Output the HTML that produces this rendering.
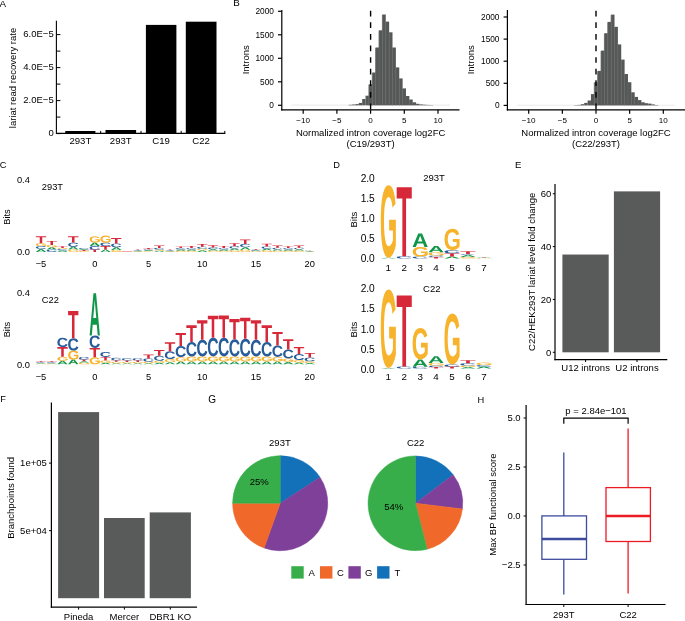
<!DOCTYPE html>
<html><head><meta charset="utf-8"><style>
html,body{margin:0;padding:0;background:#fff;}
body{width:685px;height:621px;overflow:hidden;}
svg{display:block;font-family:"Liberation Sans", sans-serif;will-change:transform;}
</style></head><body>
<svg width="685" height="621" viewBox="0 0 685 621"><defs><path id="gA" d="M787.5 1000 696.5 744.5H305.7L214.7 1000H0L374.1 0H627.4L1000 1000ZM500.7 154 496.4 169.6Q489.1 195.2 478.9 227.8Q468.7 260.5 353.7 586.9H648.5L547.3 299.5L516 203Z"/><path id="gC" d="M531 840Q730.4 840 808.1 655.2L1000 722.1Q938 862.8 818.1 931.4Q698.3 1000 531 1000Q277.1 1000 138.5 867.2Q0 734.5 0 495.9Q0 256.6 133.7 128.3Q267.4 0 521.3 0Q706.5 0 823 68.6Q939.5 137.2 986.6 270.3L792.4 319.3Q767.7 246.2 695.7 203.1Q623.6 160 525.8 160Q376.4 160 299.1 245.5Q221.8 331 221.8 495.9Q221.8 663.4 301.3 751.7Q380.9 840 531 840Z"/><path id="gG" d="M522.4 840.7Q605.6 840.7 683.8 817.6Q761.9 794.5 804.6 758.6V624.1H555.7V473.8H1000V831Q919 910.3 789.1 955.2Q659.2 1000 516.6 1000Q267.7 1000 133.9 868.6Q0 737.2 0 495.9Q0 255.9 134.6 127.9Q269.2 0 521.7 0Q880.6 0 978.3 253.1L781.5 309.7Q749.6 235.9 681.6 197.9Q613.6 160 521.7 160Q371.2 160 293.1 246.9Q214.9 333.8 214.9 495.9Q214.9 660.7 295.6 750.7Q376.3 840.7 522.4 840.7Z"/><path id="gT" d="M621.9 161.8V1000H377.3V161.8H0V0H1000V161.8Z"/></defs>
<rect width="685" height="621" fill="#fff"/>
<text x="-0.40" y="6.80" font-size="9.80" text-anchor="start" fill="#000">A</text>
<line x1="56.40" y1="20.70" x2="56.40" y2="133.90" stroke="#000" stroke-width="1.10"/>
<line x1="56.40" y1="133.40" x2="225.30" y2="133.40" stroke="#000" stroke-width="1.10"/>
<line x1="56.40" y1="133.60" x2="60.40" y2="133.60" stroke="#000" stroke-width="1.00"/>
<line x1="56.40" y1="100.60" x2="60.40" y2="100.60" stroke="#000" stroke-width="1.00"/>
<line x1="56.40" y1="67.60" x2="60.40" y2="67.60" stroke="#000" stroke-width="1.00"/>
<line x1="56.40" y1="34.60" x2="60.40" y2="34.60" stroke="#000" stroke-width="1.00"/>
<line x1="56.40" y1="117.10" x2="60.40" y2="117.10" stroke="#000" stroke-width="1.00"/>
<line x1="56.40" y1="84.10" x2="60.40" y2="84.10" stroke="#000" stroke-width="1.00"/>
<line x1="56.40" y1="51.10" x2="60.40" y2="51.10" stroke="#000" stroke-width="1.00"/>
<line x1="100.70" y1="133.40" x2="100.70" y2="130.90" stroke="#000" stroke-width="1.00"/>
<line x1="141.00" y1="133.40" x2="141.00" y2="130.90" stroke="#000" stroke-width="1.00"/>
<line x1="181.20" y1="133.40" x2="181.20" y2="130.90" stroke="#000" stroke-width="1.00"/>
<line x1="224.80" y1="133.40" x2="224.80" y2="130.90" stroke="#000" stroke-width="1.00"/>
<text x="53.70" y="136.27" font-size="9.50" text-anchor="end" fill="#000">0</text>
<text x="53.70" y="103.27" font-size="9.50" text-anchor="end" fill="#000">2.0E−5</text>
<text x="53.70" y="70.27" font-size="9.50" text-anchor="end" fill="#000">4.0E−5</text>
<text x="53.70" y="37.27" font-size="9.50" text-anchor="end" fill="#000">6.0E−5</text>
<rect x="65.30" y="131.00" width="30.10" height="2.40" fill="#000"/>
<rect x="105.50" y="130.00" width="30.60" height="3.40" fill="#000"/>
<rect x="145.90" y="24.90" width="30.50" height="108.50" fill="#000"/>
<rect x="185.80" y="21.70" width="30.70" height="111.70" fill="#000"/>
<text x="80.40" y="143.80" font-size="9.60" text-anchor="middle" fill="#000">293T</text>
<text x="120.80" y="143.80" font-size="9.60" text-anchor="middle" fill="#000">293T</text>
<text x="161.10" y="143.80" font-size="9.60" text-anchor="middle" fill="#000">C19</text>
<text x="201.10" y="143.80" font-size="9.60" text-anchor="middle" fill="#000">C22</text>
<text x="16.00" y="78.00" font-size="9.50" text-anchor="middle" fill="#000" transform="rotate(-90 16.00 78.00)">lariat read recovery rate</text>
<text x="233.30" y="6.30" font-size="9.80" text-anchor="start" fill="#000">B</text>
<line x1="281.80" y1="9.90" x2="281.80" y2="110.40" stroke="#000" stroke-width="1.20"/>
<line x1="281.20" y1="109.80" x2="459.50" y2="109.80" stroke="#000" stroke-width="1.20"/>
<line x1="291.50" y1="105.10" x2="450.00" y2="105.10" stroke="#d0d0d0" stroke-width="0.45"/>
<rect x="348.70" y="104.80" width="3.37" height="0.50" fill="#565857"/>
<rect x="352.06" y="104.50" width="3.37" height="0.80" fill="#565857"/>
<rect x="355.44" y="104.10" width="3.37" height="1.20" fill="#565857"/>
<rect x="358.81" y="102.90" width="3.37" height="2.40" fill="#565857"/>
<rect x="362.18" y="99.00" width="3.37" height="6.30" fill="#565857"/>
<rect x="365.55" y="95.70" width="3.37" height="9.60" fill="#565857"/>
<rect x="368.92" y="84.30" width="3.37" height="21.00" fill="#565857"/>
<rect x="372.29" y="72.50" width="3.37" height="32.80" fill="#565857"/>
<rect x="375.66" y="47.50" width="3.37" height="57.80" fill="#565857"/>
<rect x="379.03" y="30.30" width="3.37" height="75.00" fill="#565857"/>
<rect x="382.40" y="14.50" width="3.37" height="90.80" fill="#565857"/>
<rect x="385.77" y="21.60" width="3.37" height="83.70" fill="#565857"/>
<rect x="389.14" y="32.30" width="3.37" height="73.00" fill="#565857"/>
<rect x="392.50" y="47.50" width="3.37" height="57.80" fill="#565857"/>
<rect x="395.88" y="67.40" width="3.37" height="37.90" fill="#565857"/>
<rect x="399.25" y="78.40" width="3.37" height="26.90" fill="#565857"/>
<rect x="402.62" y="88.40" width="3.37" height="16.90" fill="#565857"/>
<rect x="405.99" y="96.00" width="3.37" height="9.30" fill="#565857"/>
<rect x="409.36" y="99.50" width="3.37" height="5.80" fill="#565857"/>
<rect x="412.73" y="102.30" width="3.37" height="3.00" fill="#565857"/>
<rect x="416.10" y="103.80" width="3.37" height="1.50" fill="#565857"/>
<rect x="419.47" y="104.40" width="3.37" height="0.90" fill="#565857"/>
<rect x="422.84" y="104.70" width="3.37" height="0.60" fill="#565857"/>
<rect x="426.21" y="104.90" width="3.37" height="0.40" fill="#565857"/>
<rect x="429.58" y="105.00" width="3.37" height="0.30" fill="#565857"/>
<line x1="368.92" y1="84.70" x2="368.92" y2="105.30" stroke="#626463" stroke-width="0.80"/>
<line x1="372.29" y1="72.90" x2="372.29" y2="105.30" stroke="#626463" stroke-width="0.80"/>
<line x1="375.66" y1="47.90" x2="375.66" y2="105.30" stroke="#626463" stroke-width="0.80"/>
<line x1="379.03" y1="30.70" x2="379.03" y2="105.30" stroke="#626463" stroke-width="0.80"/>
<line x1="382.40" y1="14.90" x2="382.40" y2="105.30" stroke="#626463" stroke-width="0.80"/>
<line x1="385.77" y1="22.00" x2="385.77" y2="105.30" stroke="#626463" stroke-width="0.80"/>
<line x1="389.14" y1="32.70" x2="389.14" y2="105.30" stroke="#626463" stroke-width="0.80"/>
<line x1="392.50" y1="47.90" x2="392.50" y2="105.30" stroke="#626463" stroke-width="0.80"/>
<line x1="395.88" y1="67.80" x2="395.88" y2="105.30" stroke="#626463" stroke-width="0.80"/>
<line x1="399.25" y1="78.80" x2="399.25" y2="105.30" stroke="#626463" stroke-width="0.80"/>
<line x1="402.62" y1="88.80" x2="402.62" y2="105.30" stroke="#626463" stroke-width="0.80"/>
<line x1="405.99" y1="96.40" x2="405.99" y2="105.30" stroke="#626463" stroke-width="0.80"/>
<line x1="409.36" y1="99.90" x2="409.36" y2="105.30" stroke="#626463" stroke-width="0.80"/>
<line x1="412.73" y1="102.70" x2="412.73" y2="105.30" stroke="#626463" stroke-width="0.80"/>
<line x1="370.60" y1="10.75" x2="370.60" y2="109.50" stroke="#000" stroke-width="1.40" stroke-dasharray="5.7,5.9"/>
<line x1="278.00" y1="11.30" x2="281.80" y2="11.30" stroke="#000" stroke-width="1.20"/>
<text x="273.90" y="14.16" font-size="8.30" text-anchor="end" fill="#000">2000</text>
<line x1="278.00" y1="34.80" x2="281.80" y2="34.80" stroke="#000" stroke-width="1.20"/>
<text x="273.90" y="37.66" font-size="8.30" text-anchor="end" fill="#000">1500</text>
<line x1="278.00" y1="58.30" x2="281.80" y2="58.30" stroke="#000" stroke-width="1.20"/>
<text x="273.90" y="61.16" font-size="8.30" text-anchor="end" fill="#000">1000</text>
<line x1="278.00" y1="81.80" x2="281.80" y2="81.80" stroke="#000" stroke-width="1.20"/>
<text x="273.90" y="84.66" font-size="8.30" text-anchor="end" fill="#000">500</text>
<line x1="278.00" y1="105.30" x2="281.80" y2="105.30" stroke="#000" stroke-width="1.20"/>
<text x="273.90" y="108.16" font-size="8.30" text-anchor="end" fill="#000">0</text>
<line x1="303.20" y1="109.80" x2="303.20" y2="113.80" stroke="#000" stroke-width="1.20"/>
<text x="303.20" y="122.69" font-size="8.10" text-anchor="middle" fill="#000">−10</text>
<line x1="336.90" y1="109.80" x2="336.90" y2="113.80" stroke="#000" stroke-width="1.20"/>
<text x="336.90" y="122.69" font-size="8.10" text-anchor="middle" fill="#000">−5</text>
<line x1="370.60" y1="109.80" x2="370.60" y2="113.80" stroke="#000" stroke-width="1.20"/>
<text x="370.60" y="122.69" font-size="8.10" text-anchor="middle" fill="#000">0</text>
<line x1="404.30" y1="109.80" x2="404.30" y2="113.80" stroke="#000" stroke-width="1.20"/>
<text x="404.30" y="122.69" font-size="8.10" text-anchor="middle" fill="#000">5</text>
<line x1="438.00" y1="109.80" x2="438.00" y2="113.80" stroke="#000" stroke-width="1.20"/>
<text x="438.00" y="122.69" font-size="8.10" text-anchor="middle" fill="#000">10</text>
<text x="370.60" y="136.10" font-size="9.50" text-anchor="middle" fill="#000">Normalized intron coverage log2FC</text>
<text x="370.60" y="146.60" font-size="9.50" text-anchor="middle" fill="#000">(C19/293T)</text>
<text x="249.10" y="59.80" font-size="9.50" text-anchor="middle" fill="#000" transform="rotate(-90 249.10 59.80)">Introns</text>
<line x1="507.40" y1="9.90" x2="507.40" y2="110.40" stroke="#000" stroke-width="1.20"/>
<line x1="506.80" y1="109.80" x2="685.00" y2="109.80" stroke="#000" stroke-width="1.20"/>
<line x1="517.20" y1="105.20" x2="675.00" y2="105.20" stroke="#d0d0d0" stroke-width="0.45"/>
<rect x="574.13" y="105.10" width="3.37" height="0.30" fill="#565857"/>
<rect x="577.49" y="104.90" width="3.37" height="0.50" fill="#565857"/>
<rect x="580.86" y="104.20" width="3.37" height="1.20" fill="#565857"/>
<rect x="584.22" y="102.90" width="3.37" height="2.50" fill="#565857"/>
<rect x="587.59" y="100.50" width="3.37" height="4.90" fill="#565857"/>
<rect x="590.95" y="94.10" width="3.37" height="11.30" fill="#565857"/>
<rect x="594.32" y="82.20" width="3.37" height="23.20" fill="#565857"/>
<rect x="597.68" y="70.90" width="3.37" height="34.50" fill="#565857"/>
<rect x="601.05" y="50.60" width="3.37" height="54.80" fill="#565857"/>
<rect x="604.41" y="33.20" width="3.37" height="72.20" fill="#565857"/>
<rect x="607.78" y="21.90" width="3.37" height="83.50" fill="#565857"/>
<rect x="611.14" y="14.60" width="3.37" height="90.80" fill="#565857"/>
<rect x="614.51" y="26.80" width="3.37" height="78.60" fill="#565857"/>
<rect x="617.87" y="44.40" width="3.37" height="61.00" fill="#565857"/>
<rect x="621.24" y="59.60" width="3.37" height="45.80" fill="#565857"/>
<rect x="624.60" y="74.00" width="3.37" height="31.40" fill="#565857"/>
<rect x="627.97" y="82.20" width="3.37" height="23.20" fill="#565857"/>
<rect x="631.33" y="92.30" width="3.37" height="13.10" fill="#565857"/>
<rect x="634.70" y="96.90" width="3.37" height="8.50" fill="#565857"/>
<rect x="638.06" y="100.10" width="3.37" height="5.30" fill="#565857"/>
<rect x="641.43" y="102.30" width="3.37" height="3.10" fill="#565857"/>
<rect x="644.79" y="103.20" width="3.37" height="2.20" fill="#565857"/>
<rect x="648.16" y="103.60" width="3.37" height="1.80" fill="#565857"/>
<rect x="651.52" y="104.40" width="3.37" height="1.00" fill="#565857"/>
<rect x="654.89" y="105.00" width="3.37" height="0.40" fill="#565857"/>
<line x1="594.32" y1="82.60" x2="594.32" y2="105.40" stroke="#626463" stroke-width="0.80"/>
<line x1="597.68" y1="71.30" x2="597.68" y2="105.40" stroke="#626463" stroke-width="0.80"/>
<line x1="601.05" y1="51.00" x2="601.05" y2="105.40" stroke="#626463" stroke-width="0.80"/>
<line x1="604.41" y1="33.60" x2="604.41" y2="105.40" stroke="#626463" stroke-width="0.80"/>
<line x1="607.78" y1="22.30" x2="607.78" y2="105.40" stroke="#626463" stroke-width="0.80"/>
<line x1="611.14" y1="15.00" x2="611.14" y2="105.40" stroke="#626463" stroke-width="0.80"/>
<line x1="614.51" y1="27.20" x2="614.51" y2="105.40" stroke="#626463" stroke-width="0.80"/>
<line x1="617.87" y1="44.80" x2="617.87" y2="105.40" stroke="#626463" stroke-width="0.80"/>
<line x1="621.24" y1="60.00" x2="621.24" y2="105.40" stroke="#626463" stroke-width="0.80"/>
<line x1="624.60" y1="74.40" x2="624.60" y2="105.40" stroke="#626463" stroke-width="0.80"/>
<line x1="627.97" y1="82.60" x2="627.97" y2="105.40" stroke="#626463" stroke-width="0.80"/>
<line x1="631.33" y1="92.70" x2="631.33" y2="105.40" stroke="#626463" stroke-width="0.80"/>
<line x1="634.70" y1="97.30" x2="634.70" y2="105.40" stroke="#626463" stroke-width="0.80"/>
<line x1="638.06" y1="100.50" x2="638.06" y2="105.40" stroke="#626463" stroke-width="0.80"/>
<line x1="641.43" y1="102.70" x2="641.43" y2="105.40" stroke="#626463" stroke-width="0.80"/>
<line x1="644.79" y1="103.60" x2="644.79" y2="105.40" stroke="#626463" stroke-width="0.80"/>
<line x1="596.00" y1="10.75" x2="596.00" y2="109.50" stroke="#000" stroke-width="1.40" stroke-dasharray="5.7,5.9"/>
<line x1="503.60" y1="17.00" x2="507.40" y2="17.00" stroke="#000" stroke-width="1.20"/>
<text x="499.50" y="19.86" font-size="8.30" text-anchor="end" fill="#000">2000</text>
<line x1="503.60" y1="39.10" x2="507.40" y2="39.10" stroke="#000" stroke-width="1.20"/>
<text x="499.50" y="41.96" font-size="8.30" text-anchor="end" fill="#000">1500</text>
<line x1="503.60" y1="61.20" x2="507.40" y2="61.20" stroke="#000" stroke-width="1.20"/>
<text x="499.50" y="64.06" font-size="8.30" text-anchor="end" fill="#000">1000</text>
<line x1="503.60" y1="83.30" x2="507.40" y2="83.30" stroke="#000" stroke-width="1.20"/>
<text x="499.50" y="86.16" font-size="8.30" text-anchor="end" fill="#000">500</text>
<line x1="503.60" y1="105.40" x2="507.40" y2="105.40" stroke="#000" stroke-width="1.20"/>
<text x="499.50" y="108.26" font-size="8.30" text-anchor="end" fill="#000">0</text>
<line x1="528.70" y1="109.80" x2="528.70" y2="113.80" stroke="#000" stroke-width="1.20"/>
<text x="528.70" y="122.69" font-size="8.10" text-anchor="middle" fill="#000">−10</text>
<line x1="562.35" y1="109.80" x2="562.35" y2="113.80" stroke="#000" stroke-width="1.20"/>
<text x="562.35" y="122.69" font-size="8.10" text-anchor="middle" fill="#000">−5</text>
<line x1="596.00" y1="109.80" x2="596.00" y2="113.80" stroke="#000" stroke-width="1.20"/>
<text x="596.00" y="122.69" font-size="8.10" text-anchor="middle" fill="#000">0</text>
<line x1="629.65" y1="109.80" x2="629.65" y2="113.80" stroke="#000" stroke-width="1.20"/>
<text x="629.65" y="122.69" font-size="8.10" text-anchor="middle" fill="#000">5</text>
<line x1="663.30" y1="109.80" x2="663.30" y2="113.80" stroke="#000" stroke-width="1.20"/>
<text x="663.30" y="122.69" font-size="8.10" text-anchor="middle" fill="#000">10</text>
<text x="596.00" y="136.10" font-size="9.50" text-anchor="middle" fill="#000">Normalized intron coverage log2FC</text>
<text x="596.00" y="146.60" font-size="9.50" text-anchor="middle" fill="#000">(C22/293T)</text>
<text x="474.50" y="59.80" font-size="9.50" text-anchor="middle" fill="#000" transform="rotate(-90 474.50 59.80)">Introns</text>
<text x="-0.30" y="167.80" font-size="9.30" text-anchor="start" fill="#000">C</text>
<use href="#gA" fill="#109648" transform="translate(35.85 249.00) scale(0.01030 0.00290)"/>
<use href="#gC" fill="#255C99" transform="translate(35.85 246.10) scale(0.01030 0.00290)"/>
<use href="#gG" fill="#F7B32B" transform="translate(35.85 243.20) scale(0.01030 0.00290)"/>
<use href="#gT" fill="#D62839" transform="translate(35.85 236.20) scale(0.01030 0.00700)"/>
<use href="#gC" fill="#255C99" transform="translate(46.60 249.60) scale(0.01030 0.00230)"/>
<use href="#gA" fill="#109648" transform="translate(46.60 247.30) scale(0.01030 0.00230)"/>
<use href="#gG" fill="#F7B32B" transform="translate(46.60 245.00) scale(0.01030 0.00230)"/>
<use href="#gT" fill="#D62839" transform="translate(46.60 240.90) scale(0.01030 0.00410)"/>
<use href="#gA" fill="#109648" transform="translate(57.35 250.50) scale(0.01030 0.00140)"/>
<use href="#gC" fill="#255C99" transform="translate(57.35 249.10) scale(0.01030 0.00140)"/>
<use href="#gG" fill="#F7B32B" transform="translate(57.35 248.10) scale(0.01030 0.00100)"/>
<use href="#gT" fill="#D62839" transform="translate(57.35 246.30) scale(0.01030 0.00180)"/>
<use href="#gG" fill="#F7B32B" transform="translate(68.10 249.60) scale(0.01030 0.00230)"/>
<use href="#gA" fill="#109648" transform="translate(68.10 246.70) scale(0.01030 0.00290)"/>
<use href="#gC" fill="#255C99" transform="translate(68.10 242.60) scale(0.01030 0.00410)"/>
<use href="#gT" fill="#D62839" transform="translate(68.10 236.20) scale(0.01030 0.00640)"/>
<use href="#gG" fill="#F7B32B" transform="translate(78.85 250.90) scale(0.01030 0.00100)"/>
<use href="#gT" fill="#D62839" transform="translate(78.85 250.10) scale(0.01030 0.00080)"/>
<use href="#gA" fill="#109648" transform="translate(78.85 248.90) scale(0.01030 0.00120)"/>
<use href="#gC" fill="#255C99" transform="translate(78.85 247.90) scale(0.01030 0.00100)"/>
<use href="#gT" fill="#D62839" transform="translate(89.60 249.60) scale(0.01030 0.00230)"/>
<use href="#gC" fill="#255C99" transform="translate(89.60 246.10) scale(0.01030 0.00350)"/>
<use href="#gA" fill="#109648" transform="translate(89.60 242.60) scale(0.01030 0.00350)"/>
<use href="#gG" fill="#F7B32B" transform="translate(89.60 236.20) scale(0.01030 0.00640)"/>
<use href="#gA" fill="#109648" transform="translate(100.35 249.60) scale(0.01030 0.00230)"/>
<use href="#gT" fill="#D62839" transform="translate(100.35 246.10) scale(0.01030 0.00350)"/>
<use href="#gC" fill="#255C99" transform="translate(100.35 242.60) scale(0.01030 0.00350)"/>
<use href="#gG" fill="#F7B32B" transform="translate(100.35 235.60) scale(0.01030 0.00700)"/>
<use href="#gG" fill="#F7B32B" transform="translate(111.10 249.90) scale(0.01030 0.00200)"/>
<use href="#gA" fill="#109648" transform="translate(111.10 247.30) scale(0.01030 0.00260)"/>
<use href="#gC" fill="#255C99" transform="translate(111.10 243.40) scale(0.01030 0.00390)"/>
<use href="#gT" fill="#D62839" transform="translate(111.10 238.10) scale(0.01030 0.00530)"/>
<rect x="121.85" y="251.20" width="10.30" height="0.70" fill="#D62839" opacity="0.6"/>
<use href="#gG" fill="#F7B32B" transform="translate(132.60 251.30) scale(0.01030 0.00060)"/>
<use href="#gA" fill="#109648" transform="translate(132.60 250.70) scale(0.01030 0.00060)"/>
<use href="#gC" fill="#255C99" transform="translate(132.60 250.10) scale(0.01030 0.00060)"/>
<use href="#gT" fill="#D62839" transform="translate(132.60 249.50) scale(0.01030 0.00060)"/>
<use href="#gG" fill="#F7B32B" transform="translate(143.35 251.10) scale(0.01030 0.00080)"/>
<use href="#gA" fill="#109648" transform="translate(143.35 250.30) scale(0.01030 0.00080)"/>
<use href="#gC" fill="#255C99" transform="translate(143.35 249.30) scale(0.01030 0.00100)"/>
<use href="#gT" fill="#D62839" transform="translate(143.35 247.90) scale(0.01030 0.00140)"/>
<use href="#gA" fill="#109648" transform="translate(154.10 250.70) scale(0.01030 0.00120)"/>
<use href="#gG" fill="#F7B32B" transform="translate(154.10 249.50) scale(0.01030 0.00120)"/>
<use href="#gC" fill="#255C99" transform="translate(154.10 247.90) scale(0.01030 0.00160)"/>
<use href="#gT" fill="#D62839" transform="translate(154.10 245.60) scale(0.01030 0.00230)"/>
<use href="#gG" fill="#F7B32B" transform="translate(164.85 251.30) scale(0.01030 0.00060)"/>
<use href="#gA" fill="#109648" transform="translate(164.85 250.70) scale(0.01030 0.00060)"/>
<use href="#gC" fill="#255C99" transform="translate(164.85 250.10) scale(0.01030 0.00060)"/>
<use href="#gT" fill="#D62839" transform="translate(164.85 249.50) scale(0.01030 0.00060)"/>
<use href="#gG" fill="#F7B32B" transform="translate(175.60 250.70) scale(0.01030 0.00120)"/>
<use href="#gA" fill="#109648" transform="translate(175.60 249.50) scale(0.01030 0.00120)"/>
<use href="#gC" fill="#255C99" transform="translate(175.60 248.10) scale(0.01030 0.00140)"/>
<use href="#gT" fill="#D62839" transform="translate(175.60 246.40) scale(0.01030 0.00170)"/>
<use href="#gG" fill="#F7B32B" transform="translate(186.35 250.70) scale(0.01030 0.00120)"/>
<use href="#gA" fill="#109648" transform="translate(186.35 249.50) scale(0.01030 0.00120)"/>
<use href="#gC" fill="#255C99" transform="translate(186.35 248.00) scale(0.01030 0.00150)"/>
<use href="#gT" fill="#D62839" transform="translate(186.35 246.00) scale(0.01030 0.00200)"/>
<use href="#gA" fill="#109648" transform="translate(197.10 250.30) scale(0.01030 0.00160)"/>
<use href="#gG" fill="#F7B32B" transform="translate(197.10 248.70) scale(0.01030 0.00160)"/>
<use href="#gC" fill="#255C99" transform="translate(197.10 246.70) scale(0.01030 0.00200)"/>
<use href="#gT" fill="#D62839" transform="translate(197.10 244.10) scale(0.01030 0.00260)"/>
<use href="#gG" fill="#F7B32B" transform="translate(207.85 250.50) scale(0.01030 0.00140)"/>
<use href="#gA" fill="#109648" transform="translate(207.85 249.10) scale(0.01030 0.00140)"/>
<use href="#gC" fill="#255C99" transform="translate(207.85 247.50) scale(0.01030 0.00160)"/>
<use href="#gT" fill="#D62839" transform="translate(207.85 245.30) scale(0.01030 0.00220)"/>
<use href="#gG" fill="#F7B32B" transform="translate(218.60 250.70) scale(0.01030 0.00120)"/>
<use href="#gA" fill="#109648" transform="translate(218.60 249.50) scale(0.01030 0.00120)"/>
<use href="#gC" fill="#255C99" transform="translate(218.60 248.00) scale(0.01030 0.00150)"/>
<use href="#gT" fill="#D62839" transform="translate(218.60 246.00) scale(0.01030 0.00200)"/>
<use href="#gG" fill="#F7B32B" transform="translate(229.35 250.30) scale(0.01030 0.00160)"/>
<use href="#gA" fill="#109648" transform="translate(229.35 248.50) scale(0.01030 0.00180)"/>
<use href="#gC" fill="#255C99" transform="translate(229.35 246.20) scale(0.01030 0.00230)"/>
<use href="#gT" fill="#D62839" transform="translate(229.35 243.20) scale(0.01030 0.00300)"/>
<use href="#gG" fill="#F7B32B" transform="translate(240.10 249.70) scale(0.01030 0.00220)"/>
<use href="#gA" fill="#109648" transform="translate(240.10 247.30) scale(0.01030 0.00240)"/>
<use href="#gC" fill="#255C99" transform="translate(240.10 243.90) scale(0.01030 0.00340)"/>
<use href="#gT" fill="#D62839" transform="translate(240.10 239.40) scale(0.01030 0.00450)"/>
<use href="#gG" fill="#F7B32B" transform="translate(250.85 251.20) scale(0.01030 0.00070)"/>
<use href="#gA" fill="#109648" transform="translate(250.85 250.50) scale(0.01030 0.00070)"/>
<use href="#gC" fill="#255C99" transform="translate(250.85 249.70) scale(0.01030 0.00080)"/>
<use href="#gT" fill="#D62839" transform="translate(250.85 248.90) scale(0.01030 0.00080)"/>
<use href="#gG" fill="#F7B32B" transform="translate(261.60 250.30) scale(0.01030 0.00160)"/>
<use href="#gA" fill="#109648" transform="translate(261.60 248.70) scale(0.01030 0.00160)"/>
<use href="#gC" fill="#255C99" transform="translate(261.60 246.50) scale(0.01030 0.00220)"/>
<use href="#gT" fill="#D62839" transform="translate(261.60 243.70) scale(0.01030 0.00280)"/>
<use href="#gG" fill="#F7B32B" transform="translate(272.35 250.70) scale(0.01030 0.00120)"/>
<use href="#gA" fill="#109648" transform="translate(272.35 249.40) scale(0.01030 0.00130)"/>
<use href="#gC" fill="#255C99" transform="translate(272.35 247.80) scale(0.01030 0.00160)"/>
<use href="#gT" fill="#D62839" transform="translate(272.35 245.60) scale(0.01030 0.00220)"/>
<use href="#gG" fill="#F7B32B" transform="translate(283.10 250.70) scale(0.01030 0.00120)"/>
<use href="#gA" fill="#109648" transform="translate(283.10 249.50) scale(0.01030 0.00120)"/>
<use href="#gC" fill="#255C99" transform="translate(283.10 248.00) scale(0.01030 0.00150)"/>
<use href="#gT" fill="#D62839" transform="translate(283.10 246.20) scale(0.01030 0.00180)"/>
<use href="#gG" fill="#F7B32B" transform="translate(293.85 250.60) scale(0.01030 0.00130)"/>
<use href="#gA" fill="#109648" transform="translate(293.85 249.30) scale(0.01030 0.00130)"/>
<use href="#gC" fill="#255C99" transform="translate(293.85 247.70) scale(0.01030 0.00160)"/>
<use href="#gT" fill="#D62839" transform="translate(293.85 245.60) scale(0.01030 0.00210)"/>
<use href="#gG" fill="#F7B32B" transform="translate(304.60 251.50) scale(0.01030 0.00040)"/>
<use href="#gA" fill="#109648" transform="translate(304.60 251.10) scale(0.01030 0.00040)"/>
<use href="#gC" fill="#255C99" transform="translate(304.60 250.70) scale(0.01030 0.00040)"/>
<use href="#gT" fill="#D62839" transform="translate(304.60 250.40) scale(0.01030 0.00030)"/>
<use href="#gG" fill="#F7B32B" transform="translate(35.85 363.60) scale(0.01030 0.00070)"/>
<use href="#gA" fill="#109648" transform="translate(35.85 362.90) scale(0.01030 0.00070)"/>
<use href="#gC" fill="#255C99" transform="translate(35.85 362.10) scale(0.01030 0.00080)"/>
<use href="#gT" fill="#D62839" transform="translate(35.85 361.30) scale(0.01030 0.00080)"/>
<use href="#gG" fill="#F7B32B" transform="translate(46.60 363.60) scale(0.01030 0.00070)"/>
<use href="#gA" fill="#109648" transform="translate(46.60 362.90) scale(0.01030 0.00070)"/>
<use href="#gC" fill="#255C99" transform="translate(46.60 362.10) scale(0.01030 0.00080)"/>
<use href="#gT" fill="#D62839" transform="translate(46.60 361.30) scale(0.01030 0.00080)"/>
<use href="#gA" fill="#109648" transform="translate(57.35 360.80) scale(0.01030 0.00350)"/>
<use href="#gG" fill="#F7B32B" transform="translate(57.35 356.70) scale(0.01030 0.00410)"/>
<use href="#gT" fill="#D62839" transform="translate(57.35 347.10) scale(0.01030 0.00960)"/>
<use href="#gC" fill="#255C99" transform="translate(57.35 337.80) scale(0.01030 0.00930)"/>
<use href="#gA" fill="#109648" transform="translate(68.10 359.60) scale(0.01030 0.00470)"/>
<use href="#gG" fill="#F7B32B" transform="translate(68.10 350.60) scale(0.01030 0.00900)"/>
<use href="#gC" fill="#255C99" transform="translate(68.10 338.20) scale(0.01030 0.01240)"/>
<use href="#gT" fill="#D62839" transform="translate(68.10 310.90) scale(0.01030 0.02730)"/>
<use href="#gG" fill="#F7B32B" transform="translate(78.85 362.50) scale(0.01030 0.00180)"/>
<use href="#gA" fill="#109648" transform="translate(78.85 361.30) scale(0.01030 0.00120)"/>
<use href="#gT" fill="#D62839" transform="translate(78.85 359.50) scale(0.01030 0.00180)"/>
<use href="#gC" fill="#255C99" transform="translate(78.85 356.90) scale(0.01030 0.00260)"/>
<use href="#gG" fill="#F7B32B" transform="translate(89.60 357.30) scale(0.01030 0.00700)"/>
<use href="#gT" fill="#D62839" transform="translate(89.60 347.90) scale(0.01030 0.00940)"/>
<use href="#gC" fill="#255C99" transform="translate(89.60 335.50) scale(0.01030 0.01240)"/>
<use href="#gA" fill="#109648" transform="translate(89.60 293.30) scale(0.01030 0.04220)"/>
<use href="#gA" fill="#109648" transform="translate(100.35 362.80) scale(0.01030 0.00150)"/>
<use href="#gG" fill="#F7B32B" transform="translate(100.35 360.40) scale(0.01030 0.00240)"/>
<use href="#gT" fill="#D62839" transform="translate(100.35 356.90) scale(0.01030 0.00350)"/>
<use href="#gC" fill="#255C99" transform="translate(100.35 351.90) scale(0.01030 0.00500)"/>
<use href="#gA" fill="#109648" transform="translate(111.10 363.30) scale(0.01030 0.00100)"/>
<use href="#gG" fill="#F7B32B" transform="translate(111.10 361.80) scale(0.01030 0.00150)"/>
<use href="#gT" fill="#D62839" transform="translate(111.10 360.30) scale(0.01030 0.00150)"/>
<use href="#gC" fill="#255C99" transform="translate(111.10 357.80) scale(0.01030 0.00250)"/>
<use href="#gA" fill="#109648" transform="translate(121.85 363.30) scale(0.01030 0.00100)"/>
<use href="#gG" fill="#F7B32B" transform="translate(121.85 361.90) scale(0.01030 0.00140)"/>
<use href="#gT" fill="#D62839" transform="translate(121.85 360.40) scale(0.01030 0.00150)"/>
<use href="#gC" fill="#255C99" transform="translate(121.85 358.30) scale(0.01030 0.00210)"/>
<use href="#gA" fill="#109648" transform="translate(132.60 363.30) scale(0.01030 0.00100)"/>
<use href="#gG" fill="#F7B32B" transform="translate(132.60 361.90) scale(0.01030 0.00140)"/>
<use href="#gT" fill="#D62839" transform="translate(132.60 360.30) scale(0.01030 0.00160)"/>
<use href="#gC" fill="#255C99" transform="translate(132.60 358.30) scale(0.01030 0.00200)"/>
<use href="#gA" fill="#109648" transform="translate(143.35 363.22) scale(0.01030 0.00108)"/>
<use href="#gG" fill="#F7B32B" transform="translate(143.35 361.66) scale(0.01030 0.00156)"/>
<use href="#gC" fill="#255C99" transform="translate(143.35 358.41) scale(0.01030 0.00325)"/>
<use href="#gT" fill="#D62839" transform="translate(143.35 354.60) scale(0.01030 0.00381)"/>
<use href="#gA" fill="#109648" transform="translate(154.10 362.86) scale(0.01030 0.00144)"/>
<use href="#gG" fill="#F7B32B" transform="translate(154.10 360.72) scale(0.01030 0.00215)"/>
<use href="#gC" fill="#255C99" transform="translate(154.10 355.83) scale(0.01030 0.00488)"/>
<use href="#gT" fill="#D62839" transform="translate(154.10 350.10) scale(0.01030 0.00573)"/>
<use href="#gA" fill="#109648" transform="translate(164.85 362.24) scale(0.01030 0.00206)"/>
<use href="#gG" fill="#F7B32B" transform="translate(164.85 359.08) scale(0.01030 0.00316)"/>
<use href="#gC" fill="#255C99" transform="translate(164.85 351.36) scale(0.01030 0.00772)"/>
<use href="#gT" fill="#D62839" transform="translate(164.85 342.30) scale(0.01030 0.00906)"/>
<use href="#gA" fill="#109648" transform="translate(175.60 361.50) scale(0.01030 0.00280)"/>
<use href="#gG" fill="#F7B32B" transform="translate(175.60 357.13) scale(0.01030 0.00437)"/>
<use href="#gC" fill="#255C99" transform="translate(175.60 346.03) scale(0.01030 0.01110)"/>
<use href="#gT" fill="#D62839" transform="translate(175.60 333.00) scale(0.01030 0.01303)"/>
<use href="#gA" fill="#109648" transform="translate(186.35 361.40) scale(0.01030 0.00290)"/>
<use href="#gG" fill="#F7B32B" transform="translate(186.35 356.40) scale(0.01030 0.00500)"/>
<use href="#gC" fill="#255C99" transform="translate(186.35 342.05) scale(0.01030 0.01435)"/>
<use href="#gT" fill="#D62839" transform="translate(186.35 325.20) scale(0.01030 0.01685)"/>
<use href="#gA" fill="#109648" transform="translate(197.10 361.40) scale(0.01030 0.00290)"/>
<use href="#gG" fill="#F7B32B" transform="translate(197.10 356.40) scale(0.01030 0.00500)"/>
<use href="#gC" fill="#255C99" transform="translate(197.10 339.79) scale(0.01030 0.01661)"/>
<use href="#gT" fill="#D62839" transform="translate(197.10 320.30) scale(0.01030 0.01949)"/>
<use href="#gA" fill="#109648" transform="translate(207.85 361.40) scale(0.01030 0.00290)"/>
<use href="#gG" fill="#F7B32B" transform="translate(207.85 356.40) scale(0.01030 0.00500)"/>
<use href="#gC" fill="#255C99" transform="translate(207.85 337.72) scale(0.01030 0.01868)"/>
<use href="#gT" fill="#D62839" transform="translate(207.85 315.80) scale(0.01030 0.02192)"/>
<use href="#gA" fill="#109648" transform="translate(218.60 361.40) scale(0.01030 0.00290)"/>
<use href="#gG" fill="#F7B32B" transform="translate(218.60 356.40) scale(0.01030 0.00500)"/>
<use href="#gC" fill="#255C99" transform="translate(218.60 337.63) scale(0.01030 0.01877)"/>
<use href="#gT" fill="#D62839" transform="translate(218.60 315.60) scale(0.01030 0.02203)"/>
<use href="#gA" fill="#109648" transform="translate(229.35 361.40) scale(0.01030 0.00290)"/>
<use href="#gG" fill="#F7B32B" transform="translate(229.35 356.40) scale(0.01030 0.00500)"/>
<use href="#gC" fill="#255C99" transform="translate(229.35 339.24) scale(0.01030 0.01716)"/>
<use href="#gT" fill="#D62839" transform="translate(229.35 319.10) scale(0.01030 0.02014)"/>
<use href="#gA" fill="#109648" transform="translate(240.10 361.40) scale(0.01030 0.00290)"/>
<use href="#gG" fill="#F7B32B" transform="translate(240.10 356.40) scale(0.01030 0.00500)"/>
<use href="#gC" fill="#255C99" transform="translate(240.10 338.64) scale(0.01030 0.01776)"/>
<use href="#gT" fill="#D62839" transform="translate(240.10 317.80) scale(0.01030 0.02084)"/>
<use href="#gA" fill="#109648" transform="translate(250.85 361.40) scale(0.01030 0.00290)"/>
<use href="#gG" fill="#F7B32B" transform="translate(250.85 356.40) scale(0.01030 0.00500)"/>
<use href="#gC" fill="#255C99" transform="translate(250.85 339.79) scale(0.01030 0.01661)"/>
<use href="#gT" fill="#D62839" transform="translate(250.85 320.30) scale(0.01030 0.01949)"/>
<use href="#gA" fill="#109648" transform="translate(261.60 361.40) scale(0.01030 0.00290)"/>
<use href="#gG" fill="#F7B32B" transform="translate(261.60 356.40) scale(0.01030 0.00500)"/>
<use href="#gC" fill="#255C99" transform="translate(261.60 342.05) scale(0.01030 0.01435)"/>
<use href="#gT" fill="#D62839" transform="translate(261.60 325.20) scale(0.01030 0.01685)"/>
<use href="#gA" fill="#109648" transform="translate(272.35 361.41) scale(0.01030 0.00289)"/>
<use href="#gG" fill="#F7B32B" transform="translate(272.35 356.90) scale(0.01030 0.00451)"/>
<use href="#gC" fill="#255C99" transform="translate(272.35 345.40) scale(0.01030 0.01150)"/>
<use href="#gT" fill="#D62839" transform="translate(272.35 331.90) scale(0.01030 0.01350)"/>
<use href="#gA" fill="#109648" transform="translate(283.10 361.99) scale(0.01030 0.00231)"/>
<use href="#gG" fill="#F7B32B" transform="translate(283.10 358.43) scale(0.01030 0.00356)"/>
<use href="#gC" fill="#255C99" transform="translate(283.10 349.58) scale(0.01030 0.00885)"/>
<use href="#gT" fill="#D62839" transform="translate(283.10 339.20) scale(0.01030 0.01038)"/>
<use href="#gA" fill="#109648" transform="translate(293.85 362.62) scale(0.01030 0.00168)"/>
<use href="#gG" fill="#F7B32B" transform="translate(293.85 360.09) scale(0.01030 0.00254)"/>
<use href="#gC" fill="#255C99" transform="translate(293.85 354.11) scale(0.01030 0.00597)"/>
<use href="#gT" fill="#D62839" transform="translate(293.85 347.10) scale(0.01030 0.00701)"/>
<use href="#gA" fill="#109648" transform="translate(304.60 363.10) scale(0.01030 0.00120)"/>
<use href="#gG" fill="#F7B32B" transform="translate(304.60 361.33) scale(0.01030 0.00177)"/>
<use href="#gC" fill="#255C99" transform="translate(304.60 357.50) scale(0.01030 0.00383)"/>
<use href="#gT" fill="#D62839" transform="translate(304.60 353.00) scale(0.01030 0.00450)"/>
<text x="29.90" y="182.90" font-size="9.30" text-anchor="end" fill="#000">0.4</text>
<text x="29.90" y="254.80" font-size="9.30" text-anchor="end" fill="#000">0.0</text>
<text x="10.40" y="217.00" font-size="9.30" text-anchor="middle" fill="#000" transform="rotate(-90 10.40 217.00)">Bits</text>
<text x="41.80" y="190.00" font-size="9.30" text-anchor="start" fill="#000">293T</text>
<text x="41.00" y="266.70" font-size="9.30" text-anchor="middle" fill="#000">−5</text>
<text x="94.75" y="266.70" font-size="9.30" text-anchor="middle" fill="#000">0</text>
<text x="148.50" y="266.70" font-size="9.30" text-anchor="middle" fill="#000">5</text>
<text x="202.25" y="266.70" font-size="9.30" text-anchor="middle" fill="#000">10</text>
<text x="256.00" y="266.70" font-size="9.30" text-anchor="middle" fill="#000">15</text>
<text x="309.75" y="266.70" font-size="9.30" text-anchor="middle" fill="#000">20</text>
<text x="29.90" y="296.20" font-size="9.30" text-anchor="end" fill="#000">0.4</text>
<text x="29.90" y="367.80" font-size="9.30" text-anchor="end" fill="#000">0.0</text>
<text x="10.40" y="329.60" font-size="9.30" text-anchor="middle" fill="#000" transform="rotate(-90 10.40 329.60)">Bits</text>
<text x="41.80" y="302.60" font-size="9.30" text-anchor="start" fill="#000">C22</text>
<text x="41.00" y="379.60" font-size="9.30" text-anchor="middle" fill="#000">−5</text>
<text x="94.75" y="379.60" font-size="9.30" text-anchor="middle" fill="#000">0</text>
<text x="148.50" y="379.60" font-size="9.30" text-anchor="middle" fill="#000">5</text>
<text x="202.25" y="379.60" font-size="9.30" text-anchor="middle" fill="#000">10</text>
<text x="256.00" y="379.60" font-size="9.30" text-anchor="middle" fill="#000">15</text>
<text x="309.75" y="379.60" font-size="9.30" text-anchor="middle" fill="#000">20</text>
<text x="333.30" y="168.00" font-size="9.30" text-anchor="start" fill="#000">D</text>
<use href="#gA" fill="#109648" transform="translate(380.75 257.80) scale(0.01510 0.00070)"/>
<use href="#gG" fill="#F7B32B" transform="translate(380.75 185.30) scale(0.01510 0.07250)"/>
<use href="#gC" fill="#255C99" transform="translate(396.68 256.30) scale(0.01510 0.00220)"/>
<use href="#gT" fill="#D62839" transform="translate(396.68 187.30) scale(0.01510 0.06900)"/>
<use href="#gC" fill="#255C99" transform="translate(412.61 256.50) scale(0.01510 0.00200)"/>
<use href="#gG" fill="#F7B32B" transform="translate(412.61 247.10) scale(0.01510 0.00940)"/>
<use href="#gA" fill="#109648" transform="translate(412.61 233.40) scale(0.01510 0.01370)"/>
<use href="#gT" fill="#D62839" transform="translate(428.54 257.00) scale(0.01510 0.00150)"/>
<use href="#gC" fill="#255C99" transform="translate(428.54 255.50) scale(0.01510 0.00150)"/>
<use href="#gG" fill="#F7B32B" transform="translate(428.54 252.30) scale(0.01510 0.00320)"/>
<use href="#gA" fill="#109648" transform="translate(428.54 246.10) scale(0.01510 0.00620)"/>
<use href="#gA" fill="#109648" transform="translate(444.47 256.40) scale(0.01510 0.00210)"/>
<use href="#gT" fill="#D62839" transform="translate(444.47 253.30) scale(0.01510 0.00310)"/>
<use href="#gC" fill="#255C99" transform="translate(444.47 250.20) scale(0.01510 0.00310)"/>
<use href="#gG" fill="#F7B32B" transform="translate(444.47 228.70) scale(0.01510 0.02150)"/>
<use href="#gG" fill="#F7B32B" transform="translate(460.40 257.10) scale(0.01510 0.00140)"/>
<use href="#gA" fill="#109648" transform="translate(460.40 254.90) scale(0.01510 0.00220)"/>
<use href="#gC" fill="#255C99" transform="translate(460.40 254.10) scale(0.01510 0.00080)"/>
<use href="#gT" fill="#D62839" transform="translate(460.40 251.30) scale(0.01510 0.00280)"/>
<use href="#gG" fill="#F7B32B" transform="translate(476.33 258.00) scale(0.01510 0.00050)"/>
<use href="#gA" fill="#109648" transform="translate(476.33 257.50) scale(0.01510 0.00050)"/>
<use href="#gT" fill="#D62839" transform="translate(476.33 257.00) scale(0.01510 0.00050)"/>
<use href="#gA" fill="#109648" transform="translate(380.75 368.10) scale(0.01510 0.00050)"/>
<use href="#gG" fill="#F7B32B" transform="translate(380.75 289.60) scale(0.01510 0.07850)"/>
<use href="#gC" fill="#255C99" transform="translate(396.68 366.60) scale(0.01510 0.00200)"/>
<use href="#gT" fill="#D62839" transform="translate(396.68 295.60) scale(0.01510 0.07100)"/>
<use href="#gC" fill="#255C99" transform="translate(412.61 366.80) scale(0.01510 0.00180)"/>
<use href="#gA" fill="#109648" transform="translate(412.61 359.40) scale(0.01510 0.00740)"/>
<use href="#gG" fill="#F7B32B" transform="translate(412.61 327.90) scale(0.01510 0.03150)"/>
<use href="#gT" fill="#D62839" transform="translate(428.54 367.10) scale(0.01510 0.00150)"/>
<use href="#gC" fill="#255C99" transform="translate(428.54 365.60) scale(0.01510 0.00150)"/>
<use href="#gG" fill="#F7B32B" transform="translate(428.54 362.90) scale(0.01510 0.00270)"/>
<use href="#gA" fill="#109648" transform="translate(428.54 356.20) scale(0.01510 0.00670)"/>
<use href="#gT" fill="#D62839" transform="translate(444.47 366.60) scale(0.01510 0.00200)"/>
<use href="#gC" fill="#255C99" transform="translate(444.47 364.60) scale(0.01510 0.00200)"/>
<use href="#gG" fill="#F7B32B" transform="translate(444.47 313.40) scale(0.01510 0.05120)"/>
<use href="#gA" fill="#109648" transform="translate(460.40 367.10) scale(0.01510 0.00150)"/>
<use href="#gG" fill="#F7B32B" transform="translate(460.40 365.50) scale(0.01510 0.00160)"/>
<use href="#gC" fill="#255C99" transform="translate(460.40 363.30) scale(0.01510 0.00220)"/>
<use href="#gT" fill="#D62839" transform="translate(460.40 360.30) scale(0.01510 0.00300)"/>
<use href="#gA" fill="#109648" transform="translate(476.33 366.60) scale(0.01510 0.00200)"/>
<use href="#gC" fill="#255C99" transform="translate(476.33 365.10) scale(0.01510 0.00150)"/>
<use href="#gG" fill="#F7B32B" transform="translate(476.33 362.60) scale(0.01510 0.00250)"/>
<text x="374.80" y="262.21" font-size="10.20" text-anchor="end" fill="#000">0.0</text>
<text x="374.80" y="242.21" font-size="10.20" text-anchor="end" fill="#000">0.5</text>
<text x="374.80" y="222.21" font-size="10.20" text-anchor="end" fill="#000">1.0</text>
<text x="374.80" y="202.21" font-size="10.20" text-anchor="end" fill="#000">1.5</text>
<text x="374.80" y="182.21" font-size="10.20" text-anchor="end" fill="#000">2.0</text>
<text x="357.00" y="219.60" font-size="9.50" text-anchor="middle" fill="#000" transform="rotate(-90 357.00 219.60)">Bits</text>
<text x="434.00" y="181.17" font-size="9.50" text-anchor="middle" fill="#000">293T</text>
<text x="388.30" y="270.77" font-size="9.80" text-anchor="middle" fill="#000">1</text>
<text x="404.23" y="270.77" font-size="9.80" text-anchor="middle" fill="#000">2</text>
<text x="420.16" y="270.77" font-size="9.80" text-anchor="middle" fill="#000">3</text>
<text x="436.09" y="270.77" font-size="9.80" text-anchor="middle" fill="#000">4</text>
<text x="452.02" y="270.77" font-size="9.80" text-anchor="middle" fill="#000">5</text>
<text x="467.95" y="270.77" font-size="9.80" text-anchor="middle" fill="#000">6</text>
<text x="483.88" y="270.77" font-size="9.80" text-anchor="middle" fill="#000">7</text>
<text x="374.80" y="372.81" font-size="10.20" text-anchor="end" fill="#000">0.0</text>
<text x="374.80" y="352.66" font-size="10.20" text-anchor="end" fill="#000">0.5</text>
<text x="374.80" y="332.51" font-size="10.20" text-anchor="end" fill="#000">1.0</text>
<text x="374.80" y="312.36" font-size="10.20" text-anchor="end" fill="#000">1.5</text>
<text x="374.80" y="292.21" font-size="10.20" text-anchor="end" fill="#000">2.0</text>
<text x="357.00" y="329.60" font-size="9.50" text-anchor="middle" fill="#000" transform="rotate(-90 357.00 329.60)">Bits</text>
<text x="431.80" y="291.97" font-size="9.50" text-anchor="middle" fill="#000">C22</text>
<text x="388.30" y="380.27" font-size="9.80" text-anchor="middle" fill="#000">1</text>
<text x="404.23" y="380.27" font-size="9.80" text-anchor="middle" fill="#000">2</text>
<text x="420.16" y="380.27" font-size="9.80" text-anchor="middle" fill="#000">3</text>
<text x="436.09" y="380.27" font-size="9.80" text-anchor="middle" fill="#000">4</text>
<text x="452.02" y="380.27" font-size="9.80" text-anchor="middle" fill="#000">5</text>
<text x="467.95" y="380.27" font-size="9.80" text-anchor="middle" fill="#000">6</text>
<text x="483.88" y="380.27" font-size="9.80" text-anchor="middle" fill="#000">7</text>
<text x="515.00" y="167.90" font-size="9.60" text-anchor="start" fill="#000">E</text>
<line x1="555.00" y1="184.00" x2="555.00" y2="360.20" stroke="#000" stroke-width="1.20"/>
<line x1="554.40" y1="359.60" x2="667.30" y2="359.60" stroke="#000" stroke-width="1.20"/>
<line x1="552.80" y1="352.30" x2="555.00" y2="352.30" stroke="#000" stroke-width="1.00"/>
<text x="551.30" y="355.57" font-size="9.50" text-anchor="end" fill="#000">0</text>
<line x1="552.80" y1="299.45" x2="555.00" y2="299.45" stroke="#000" stroke-width="1.00"/>
<text x="551.30" y="302.72" font-size="9.50" text-anchor="end" fill="#000">20</text>
<line x1="552.80" y1="246.60" x2="555.00" y2="246.60" stroke="#000" stroke-width="1.00"/>
<text x="551.30" y="249.87" font-size="9.50" text-anchor="end" fill="#000">40</text>
<line x1="552.80" y1="193.75" x2="555.00" y2="193.75" stroke="#000" stroke-width="1.00"/>
<text x="551.30" y="197.02" font-size="9.50" text-anchor="end" fill="#000">60</text>
<rect x="562.40" y="254.53" width="46.30" height="97.77" fill="#595B5A"/>
<rect x="613.90" y="191.37" width="46.20" height="160.93" fill="#595B5A"/>
<line x1="585.60" y1="359.60" x2="585.60" y2="362.00" stroke="#000" stroke-width="1.00"/>
<line x1="637.00" y1="359.60" x2="637.00" y2="362.00" stroke="#000" stroke-width="1.00"/>
<text x="585.60" y="370.87" font-size="9.50" text-anchor="middle" fill="#000">U12 introns</text>
<text x="637.00" y="370.87" font-size="9.50" text-anchor="middle" fill="#000">U2 introns</text>
<text x="535.50" y="271.80" font-size="9.50" text-anchor="middle" fill="#000" transform="rotate(-90 535.50 271.80)">C22/HEK293T lariat level fold change</text>
<text x="0.20" y="402.20" font-size="9.30" text-anchor="start" fill="#000">F</text>
<line x1="51.40" y1="402.50" x2="51.40" y2="607.80" stroke="#000" stroke-width="1.20"/>
<line x1="50.80" y1="607.20" x2="197.00" y2="607.20" stroke="#000" stroke-width="1.20"/>
<line x1="49.00" y1="463.10" x2="51.40" y2="463.10" stroke="#000" stroke-width="1.00"/>
<text x="46.80" y="466.37" font-size="9.50" text-anchor="end" fill="#000">1e+05</text>
<line x1="49.00" y1="530.65" x2="51.40" y2="530.65" stroke="#000" stroke-width="1.00"/>
<text x="46.80" y="533.92" font-size="9.50" text-anchor="end" fill="#000">5e+04</text>
<rect x="58.10" y="412.10" width="41.00" height="186.10" fill="#595B5A"/>
<rect x="104.00" y="518.00" width="40.70" height="80.20" fill="#595B5A"/>
<rect x="149.70" y="512.40" width="41.20" height="85.80" fill="#595B5A"/>
<line x1="78.60" y1="607.20" x2="78.60" y2="609.60" stroke="#000" stroke-width="1.00"/>
<text x="78.60" y="620.00" font-size="9.50" text-anchor="middle" fill="#000">Pineda</text>
<line x1="124.40" y1="607.20" x2="124.40" y2="609.60" stroke="#000" stroke-width="1.00"/>
<text x="124.40" y="620.00" font-size="9.50" text-anchor="middle" fill="#000">Mercer</text>
<line x1="170.30" y1="607.20" x2="170.30" y2="609.60" stroke="#000" stroke-width="1.00"/>
<text x="170.30" y="620.00" font-size="9.50" text-anchor="middle" fill="#000">DBR1 KO</text>
<text x="14.20" y="497.80" font-size="9.50" text-anchor="middle" fill="#000" transform="rotate(-90 14.20 497.80)">Branchpoints found</text>
<text x="208.20" y="402.60" font-size="10.00" text-anchor="start" fill="#000">G</text>
<path d="M280.20 503.20L280.20 455.65A47.55 47.55 0 0 1 320.02 477.22Z" fill="#1271B9" stroke="#1271B9" stroke-width="0.5"/>
<path d="M280.20 503.20L320.02 477.22A47.55 47.55 0 0 1 264.09 547.94Z" fill="#7E4098" stroke="#7E4098" stroke-width="0.5"/>
<path d="M280.20 503.20L264.09 547.94A47.55 47.55 0 0 1 232.65 503.20Z" fill="#F1692A" stroke="#F1692A" stroke-width="0.5"/>
<path d="M280.20 503.20L232.65 503.20A47.55 47.55 0 0 1 280.20 455.65Z" fill="#37AE49" stroke="#37AE49" stroke-width="0.5"/>
<path d="M415.40 503.30L415.40 455.95A47.35 47.35 0 0 1 453.18 474.75Z" fill="#1271B9" stroke="#1271B9" stroke-width="0.5"/>
<path d="M415.40 503.30L453.18 474.75A47.35 47.35 0 0 1 462.41 508.94Z" fill="#7E4098" stroke="#7E4098" stroke-width="0.5"/>
<path d="M415.40 503.30L462.41 508.94A47.35 47.35 0 0 1 427.18 549.16Z" fill="#F1692A" stroke="#F1692A" stroke-width="0.5"/>
<path d="M415.40 503.30L427.18 549.16A47.35 47.35 0 1 1 415.40 455.95Z" fill="#37AE49" stroke="#37AE49" stroke-width="0.5"/>
<text x="259.30" y="484.67" font-size="9.50" text-anchor="middle" fill="#000">25%</text>
<text x="393.80" y="510.47" font-size="9.50" text-anchor="middle" fill="#000">54%</text>
<text x="279.90" y="446.30" font-size="9.50" text-anchor="middle" fill="#000">293T</text>
<text x="415.60" y="446.30" font-size="9.50" text-anchor="middle" fill="#000">C22</text>
<rect x="291.30" y="566.20" width="12.40" height="12.40" fill="#37AE49"/>
<text x="311.70" y="575.67" font-size="9.50" text-anchor="middle" fill="#000">A</text>
<rect x="320.00" y="566.20" width="12.40" height="12.40" fill="#F1692A"/>
<text x="340.40" y="575.67" font-size="9.50" text-anchor="middle" fill="#000">C</text>
<rect x="348.40" y="566.20" width="12.40" height="12.40" fill="#7E4098"/>
<text x="368.80" y="575.67" font-size="9.50" text-anchor="middle" fill="#000">G</text>
<rect x="377.10" y="566.20" width="12.40" height="12.40" fill="#1271B9"/>
<text x="397.50" y="575.67" font-size="9.50" text-anchor="middle" fill="#000">T</text>
<text x="477.50" y="402.60" font-size="9.30" text-anchor="start" fill="#000">H</text>
<line x1="526.10" y1="404.90" x2="526.10" y2="605.10" stroke="#000" stroke-width="1.20"/>
<line x1="525.50" y1="604.50" x2="665.60" y2="604.50" stroke="#000" stroke-width="1.20"/>
<line x1="523.60" y1="418.00" x2="526.10" y2="418.00" stroke="#000" stroke-width="1.00"/>
<text x="520.60" y="421.27" font-size="9.50" text-anchor="end" fill="#000">5.0</text>
<line x1="523.60" y1="467.00" x2="526.10" y2="467.00" stroke="#000" stroke-width="1.00"/>
<text x="520.60" y="470.27" font-size="9.50" text-anchor="end" fill="#000">2.5</text>
<line x1="523.60" y1="516.00" x2="526.10" y2="516.00" stroke="#000" stroke-width="1.00"/>
<text x="520.60" y="519.27" font-size="9.50" text-anchor="end" fill="#000">0.0</text>
<line x1="523.60" y1="565.00" x2="526.10" y2="565.00" stroke="#000" stroke-width="1.00"/>
<text x="520.60" y="568.27" font-size="9.50" text-anchor="end" fill="#000">−2.5</text>
<line x1="563.80" y1="604.50" x2="563.80" y2="607.00" stroke="#000" stroke-width="1.00"/>
<line x1="628.10" y1="604.50" x2="628.10" y2="607.00" stroke="#000" stroke-width="1.00"/>
<text x="563.80" y="618.07" font-size="9.50" text-anchor="middle" fill="#000">293T</text>
<text x="628.10" y="618.07" font-size="9.50" text-anchor="middle" fill="#000">C22</text>
<text x="496.00" y="504.60" font-size="9.50" text-anchor="middle" fill="#000" transform="rotate(-90 496.00 504.60)">Max BP functional score</text>
<line x1="563.80" y1="452.40" x2="563.80" y2="515.90" stroke="#3C4B9E" stroke-width="1.30"/>
<line x1="563.80" y1="559.30" x2="563.80" y2="594.40" stroke="#3C4B9E" stroke-width="1.30"/>
<rect x="541.9" y="515.9" width="44.6" height="43.4" fill="none" stroke="#3C4B9E" stroke-width="1.3"/>
<line x1="541.90" y1="539.10" x2="586.50" y2="539.10" stroke="#3C4B9E" stroke-width="2.50"/>
<line x1="628.10" y1="428.60" x2="628.10" y2="487.60" stroke="#EC1C24" stroke-width="1.30"/>
<line x1="628.10" y1="541.50" x2="628.10" y2="593.40" stroke="#EC1C24" stroke-width="1.30"/>
<rect x="606.0" y="487.6" width="44.4" height="53.9" fill="none" stroke="#EC1C24" stroke-width="1.3"/>
<line x1="606.00" y1="515.90" x2="650.40" y2="515.90" stroke="#EC1C24" stroke-width="2.50"/>
<polyline points="563.80,423.80 563.80,418.20 628.10,418.20 628.10,423.80" fill="none" stroke="#000" stroke-width="1.20"/>
<text x="596.00" y="414.20" font-size="9.50" text-anchor="middle" fill="#000">p = 2.84e−101</text>
</svg></body></html>
